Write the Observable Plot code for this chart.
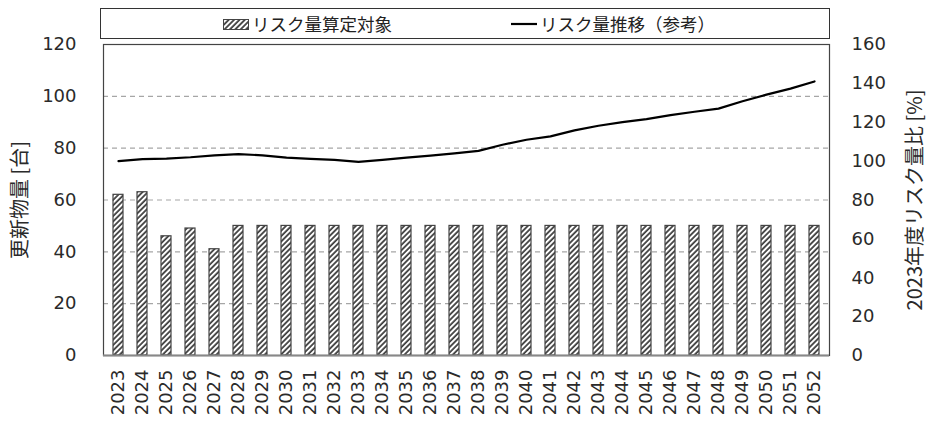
<!DOCTYPE html>
<html><head><meta charset="utf-8">
<script src="https://cdn.jsdelivr.net/npm/d3@7"></script>
<script src="https://cdn.jsdelivr.net/npm/@observablehq/plot@0.6"></script>
<style>
body{margin:0;background:#fff;}
#wrap{position:relative;width:929px;height:423px;overflow:hidden;}
#legend{position:absolute;left:100px;top:8px;width:730px;height:31px;border:1px solid #333;box-sizing:border-box;font-family:"Noto Sans CJK JP","Noto Sans",sans-serif;font-size:17.5px;color:#222;background:#fff;}
.li{position:absolute;top:-1px;height:32px;line-height:32px;white-space:nowrap;}
.li svg{vertical-align:top;margin-right:2px;}
</style></head>
<body><div id="wrap"><div id="legend"></div></div>
<script>
const years = [2023,2024,2025,2026,2027,2028,2029,2030,2031,2032,2033,2034,2035,2036,2037,2038,2039,2040,2041,2042,2043,2044,2045,2046,2047,2048,2049,2050,2051,2052];
const counts = [62,63,46,49,41,50,50,50,50,50,50,50,50,50,50,50,50,50,50,50,50,50,50,50,50,50,50,50,50,50];
const riskRatio = [100,101,101.3,102,103,103.6,103,101.8,101.2,100.6,99.6,100.6,101.8,102.8,104,105.3,108.4,111,112.7,115.8,118.2,120.1,121.6,123.7,125.4,127,130.8,134.2,137.3,141];
const leftTicks = [0,20,40,60,80,100,120];
const rightTicks = [0,20,40,60,80,100,120,140,160];
const seriesNames = ["リスク量算定対象","リスク量推移（参考）"];
const leftTitle = "更新物量 [台]";
const rightTitle = "2023年度リスク量比 [%]";

const data = years.map((y,i)=>({year:String(y), count:counts[i], risk:riskRatio[i]}));
const k = 120/160;

function hatchDefs(id){
  const defs = d3.create("svg:defs");
  const s = 3.8;
  const p = defs.append("pattern").attr("id",id).attr("patternUnits","userSpaceOnUse")
    .attr("width",s).attr("height",s).attr("patternTransform","rotate(45)");
  p.append("rect").attr("width",s).attr("height",s).attr("fill","#fff");
  p.append("line").attr("x1",1).attr("y1",0).attr("x2",1).attr("y2",s).attr("stroke","#111").attr("stroke-width",1.45);
  return defs.node();
}

const chart = Plot.plot({
  width:929, height:423, marginLeft:103, marginRight:100, marginTop:44, marginBottom:68,
  style:{fontFamily:"'DejaVu Sans', Verdana, sans-serif", fontSize:"17px", color:"#2a2a2a", background:"transparent"},
  x:{type:"band", domain:data.map(d=>d.year), paddingInner:0.58, paddingOuter:0.23, label:null},
  y:{domain:[0,120], label:null},
  marks:[
    () => hatchDefs("hatch"),
    Plot.ruleY(leftTicks.filter(v=>v>0 && v<120), {stroke:"#a6a6a6", strokeWidth:1.2, strokeDasharray:"5,4"}),
    Plot.barY(data, {x:"year", y:"count", fill:"url(#hatch)", stroke:"#444", strokeWidth:1.2}),
    Plot.line(data, {x:"year", y:d=>d.risk*k, stroke:"#000", strokeWidth:2.2}),
    Plot.frame({stroke:"#444", strokeWidth:1.2}),
    Plot.ruleY([0], {stroke:"#888", strokeWidth:2}),
    Plot.axisY(leftTicks, {anchor:"left", tickSize:0, tickPadding:27, fontSize:18, label:null}),
    Plot.axisY(rightTicks.map(v=>v*k), {anchor:"right", tickSize:0, tickPadding:22, fontSize:18, tickFormat:d=>String(Math.round(d/k)), label:null}),
    Plot.axisX({tickSize:0, tickRotate:-90, tickPadding:14, fontSize:18, label:null}),
    Plot.text([leftTitle], {frameAnchor:"left", dx:-83, rotate:-90, textAnchor:"middle", fontSize:20, fontFamily:"'Noto Sans CJK JP', sans-serif", fill:"#2a2a2a"}),
    Plot.text([rightTitle], {frameAnchor:"right", dx:86, rotate:-90, textAnchor:"middle", fontSize:20, fontFamily:"'Noto Sans CJK JP', sans-serif", fill:"#2a2a2a"})
  ]
});
const wrap = document.getElementById("wrap");
wrap.insertBefore(chart, wrap.firstChild);

const legend = document.getElementById("legend");
legend.innerHTML = `
<div class="li" style="left:122px;"><svg width="27" height="32">${hatchDefs("hatchL").outerHTML}<rect x="0.5" y="11.5" width="25" height="10" fill="url(#hatchL)" stroke="#444"/></svg><span>${seriesNames[0]}</span></div>
<div class="li" style="left:410px;"><svg width="27" height="32"><line x1="0" x2="26" y1="16" y2="16" stroke="#000" stroke-width="2.2"/></svg><span>${seriesNames[1]}</span></div>`;
</script>
</body></html>
